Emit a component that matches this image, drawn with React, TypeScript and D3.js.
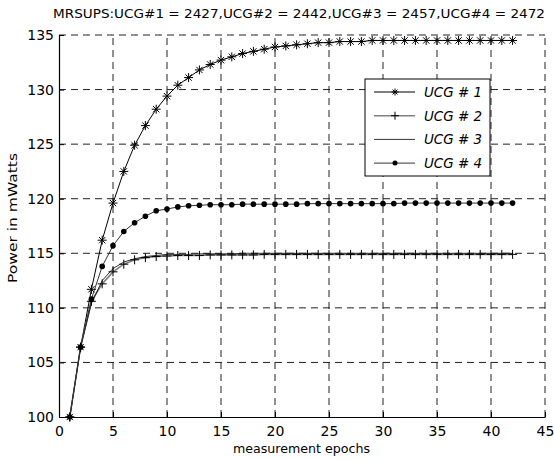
import { useEffect, useRef } from 'react'
import * as d3 from 'd3'

const epochs = d3.range(1, 43)
const ucg1 = [100, 106.4, 111.7, 116.2, 119.6, 122.5, 124.9, 126.7, 128.2, 129.4, 130.4, 131.1, 131.8, 132.3, 132.7, 133.0, 133.3, 133.5, 133.7, 133.9, 134.0, 134.1, 134.2, 134.3, 134.3, 134.4, 134.4, 134.4, 134.5, 134.5, 134.5, 134.5, 134.5, 134.5, 134.5, 134.5, 134.5, 134.5, 134.5, 134.5, 134.5, 134.5]
const ucg2 = [100, 106.4, 110.6, 112.2, 113.3, 114.0, 114.4, 114.6, 114.7, 114.75, 114.8, 114.8, 114.8, 114.85, 114.85, 114.85, 114.85, 114.85, 114.9, 114.9, 114.9, 114.9, 114.9, 114.9, 114.9, 114.9, 114.9, 114.9, 114.9, 114.9, 114.9, 114.9, 114.9, 114.9, 114.9, 114.9, 114.9, 114.9, 114.9, 114.9, 114.9, 114.9]
const ucg3 = [100, 106.4, 110.4, 112.5, 113.6, 114.2, 114.5, 114.7, 114.8, 114.9, 114.9, 114.9, 114.95, 114.95, 114.95, 114.95, 115.0, 115.0, 115.0, 115.0, 115.0, 115.0, 115.0, 115.0, 115.0, 115.0, 115.0, 115.0, 115.0, 115.0, 115.0, 115.0, 115.0, 115.0, 115.0, 115.0, 115.0, 115.0, 115.0, 115.0, 115.0, 115.0]
const ucg4 = [100, 106.4, 110.8, 113.8, 115.7, 117.0, 117.8, 118.4, 118.9, 119.05, 119.25, 119.35, 119.4, 119.45, 119.45, 119.45, 119.5, 119.5, 119.5, 119.5, 119.5, 119.5, 119.55, 119.55, 119.55, 119.55, 119.55, 119.55, 119.55, 119.55, 119.55, 119.6, 119.6, 119.6, 119.6, 119.6, 119.6, 119.6, 119.6, 119.6, 119.6, 119.6]
const seriesNames = ['UCG # 1', 'UCG # 2', 'UCG # 3', 'UCG # 4']
const xTicks = [0, 5, 10, 15, 20, 25, 30, 35, 40, 45]
const yTicks = [100, 105, 110, 115, 120, 125, 130, 135]
const title = 'MRSUPS:UCG#1 = 2427,UCG#2 = 2442,UCG#3 = 2457,UCG#4 = 2472'

const FONT = '"DejaVu Sans", sans-serif'

const App = () => {
  const chart = useRef<SVGSVGElement>(null)

  useEffect(() => {
    const svg = d3.select(chart.current)
    svg.selectAll('*').remove()

    const margin = { top: 35, left: 59, right: 9, bottom: 42 }
    const W = 554, H = 459
    const x = d3.scaleLinear().domain([0, 45]).range([margin.left, W - margin.right])
    const y = d3.scaleLinear().domain([100, 135]).range([H - margin.bottom, margin.top])

    svg.append('rect').attr('width', W).attr('height', H).attr('fill', '#fff')

    // grid
    const grid = svg.append('g').attr('stroke', '#222').attr('stroke-width', 1)
      .attr('stroke-dasharray', '7,5')
    grid.selectAll('.vg').data(xTicks.slice(1)).enter().append('line')
      .attr('x1', d => x(d)).attr('x2', d => x(d))
      .attr('y1', y(100)).attr('y2', y(135))
    grid.selectAll('.hg').data(yTicks.slice(1)).enter().append('line')
      .attr('x1', x(0)).attr('x2', x(45))
      .attr('y1', d => y(d)).attr('y2', d => y(d))

    // axes
    const xAxis = svg.append('g')
      .attr('transform', `translate(0,${y(100)})`)
      .call(d3.axisBottom(x).tickValues(xTicks).tickSizeInner(-5).tickSizeOuter(0).tickPadding(9))
    const yAxis = svg.append('g')
      .attr('transform', `translate(${x(0)},0)`)
      .call(d3.axisLeft(y).tickValues(yTicks).tickSizeInner(-5).tickSizeOuter(0).tickPadding(5))
    ;[xAxis, yAxis].forEach(a => {
      a.select('.domain').attr('stroke', '#000').attr('stroke-width', 1.2)
      a.selectAll('.tick line').attr('stroke', '#000')
      a.selectAll('.tick text').attr('fill', '#000').attr('font-size', 14).attr('font-family', FONT)
    })

    // lines
    const allSeries = [ucg1, ucg2, ucg3, ucg4]
    const styles = [
      { stroke: '#000', width: 1 },
      { stroke: '#808080', width: 1.6 },
      { stroke: '#000', width: 0.8 },
      { stroke: '#333', width: 1 },
    ]
    const line = d3.line<number>().x((_, i) => x(epochs[i])).y(d => y(d))
    allSeries.forEach((s, k) => {
      svg.append('path').datum(s)
        .attr('fill', 'none')
        .attr('stroke', styles[k].stroke)
        .attr('stroke-width', styles[k].width)
        .attr('d', line)
    })

    const star = (g: any, cx: number, cy: number, r: number) => {
      const p = `M${cx - r},${cy}H${cx + r}M${cx},${cy - r}V${cy + r}` +
        `M${cx - r * 0.7},${cy - r * 0.7}L${cx + r * 0.7},${cy + r * 0.7}` +
        `M${cx - r * 0.7},${cy + r * 0.7}L${cx + r * 0.7},${cy - r * 0.7}`
      g.append('path').attr('d', p).attr('stroke', '#000').attr('stroke-width', 1).attr('fill', 'none')
    }
    const plus = (g: any, cx: number, cy: number, r: number) => {
      g.append('path').attr('d', `M${cx - r},${cy}H${cx + r}M${cx},${cy - r}V${cy + r}`)
        .attr('stroke', '#000').attr('stroke-width', 1).attr('fill', 'none')
    }
    const dot = (g: any, cx: number, cy: number, r: number) => {
      g.append('circle').attr('cx', cx).attr('cy', cy).attr('r', r).attr('fill', '#000')
    }

    const mk = svg.append('g')
    ucg1.forEach((v, i) => star(mk, x(epochs[i]), y(v), 4.5))
    ucg2.forEach((v, i) => plus(mk, x(epochs[i]), y(v), 4.5))
    ucg4.forEach((v, i) => dot(mk, x(epochs[i]), y(v), 2.8))

    // legend
    const lg = svg.append('g')
    lg.append('rect').attr('x', 365).attr('y', 79).attr('width', 125).attr('height', 97)
      .attr('fill', '#fff').attr('stroke', '#000').attr('stroke-width', 1)
    seriesNames.forEach((name, k) => {
      const ly = 92 + k * 23.7
      lg.append('line').attr('x1', 374).attr('x2', 415).attr('y1', ly).attr('y2', ly)
        .attr('stroke', styles[k].stroke).attr('stroke-width', styles[k].width)
      if (k === 0) star(lg, 395, ly, 3.5)
      if (k === 1) plus(lg, 395, ly, 4)
      if (k === 3) dot(lg, 395, ly, 2.5)
      lg.append('text').attr('x', 424).attr('y', ly + 5).attr('font-size', 14)
        .attr('font-style', 'italic').attr('font-family', FONT).attr('fill', '#000')
        .attr('textLength', 58).attr('lengthAdjust', 'spacingAndGlyphs').text(name)
    })

    // title and labels
    svg.append('text').attr('x', 53).attr('y', 18).attr('font-size', 13)
      .attr('font-family', FONT).attr('textLength', 492).attr('lengthAdjust', 'spacingAndGlyphs')
      .text(title)
    svg.append('text').attr('x', 233).attr('y', 453)
      .attr('font-size', 13).attr('font-family', FONT)
      .attr('textLength', 137).attr('lengthAdjust', 'spacingAndGlyphs').text('measurement epochs')
    svg.append('text').attr('transform', `translate(17,283) rotate(-90)`)
      .attr('font-size', 13).attr('font-family', FONT)
      .attr('textLength', 130).attr('lengthAdjust', 'spacingAndGlyphs').text('Power in mWatts')
  }, [])

  return (
    <svg ref={chart} width={554} height={459}
      style={{ position: 'absolute', left: 0, top: 0, display: 'block' }} />
  )
}

export default App
